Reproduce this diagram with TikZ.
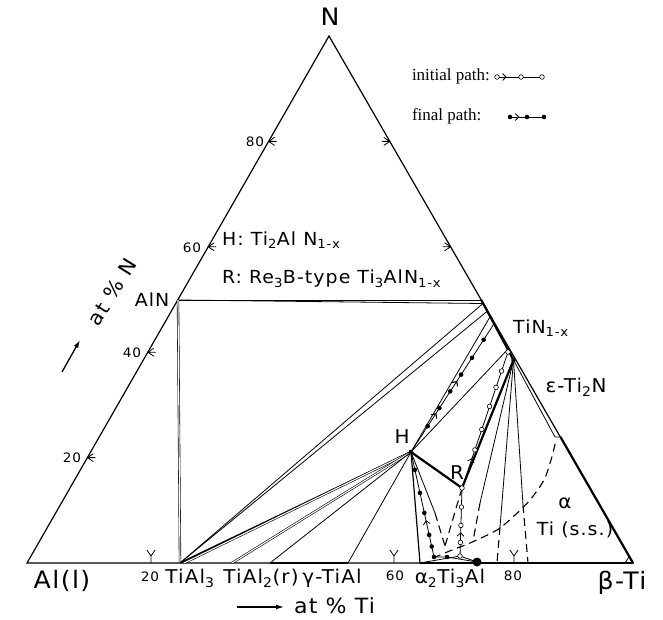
\documentclass[tikz,border=0pt]{standalone}
\usepackage{fontspec}
\newfontfamily\lab{DejaVu Sans}[LetterSpace=6,FakeStretch=1.05]
\newfontfamily\leg{Liberation Serif}
\usetikzlibrary{calc,arrows.meta,decorations.markings}
\begin{document}
\begin{tikzpicture}[x=1pt,y=-1pt,
  every node/.style={inner sep=0pt,outer sep=0pt},
  tl/.style={line width=0.8pt},
  ed/.style={line width=1.2pt},
  tk/.style={line width=2.2pt},
  dbl/.style={double, double distance=1.1pt, line width=0.6pt},
  dsh/.style={line width=1.1pt, dash pattern=on 8pt off 5pt},
  fdot/.style={circle, fill=black, minimum size=4.6pt},
  hdot/.style={circle, draw=black, fill=white, line width=0.6pt, minimum size=4.6pt},
  big/.style={font=\lab\fontsize{24}{24}\selectfont},
  mid/.style={font=\lab\fontsize{19}{19}\selectfont},
  lbl/.style={font=\lab\fontsize{18}{18}\selectfont},
  sml/.style={font=\lab\fontsize{13}{13}\selectfont},
  chev/.style={postaction={decorate},decoration={markings, mark=at position #1 with {\arrow{Straight Barb[length=3.5pt,width=7pt,line width=0.8pt]}}}},
]
\useasboundingbox (0,0) rectangle (663,620);
% corners and phase points
\coordinate (Al) at (27,563);
\coordinate (Ti) at (633,563);
\coordinate (N) at (329,36);
\coordinate (AlN) at (178,300);
\coordinate (T1) at (481.3,300);
\coordinate (T1b) at (483,303.5);
\coordinate (T2b) at (487.5,311);
\coordinate (T3) at (490.5,316);
\coordinate (Tp) at (494.5,323);
\coordinate (TH) at (509,348);
\coordinate (TLa) at (508,352);
\coordinate (TLb) at (513.5,360);
\coordinate (H) at (411,452);
\coordinate (R) at (462,488);
\coordinate (TiAl3) at (180,563);
\coordinate (TiAl3b) at (184,563);
\coordinate (TiAl2) at (232,563);
\coordinate (GL) at (270,563);
\coordinate (GR) at (348,563);
\coordinate (A2L) at (420,563);
\coordinate (EpsE) at (560.5,437);
\coordinate (EpsI) at (555,437);
\coordinate (F1) at (480,503);
\coordinate (V2) at (473,541);
\coordinate (F2) at (500,527);
\coordinate (F2e) at (497,563);
\coordinate (F3) at (523,505);
\coordinate (F3e) at (528,563);
\coordinate (G1) at (435,513);
\coordinate (V1) at (445,546);
\coordinate (B1) at (625,563);
\coordinate (B2) at (629.5,556);
\coordinate (P0) at (460,556);
\coordinate (Q1) at (447,557);
\coordinate (Q2) at (434,557);

% triangle
\draw[ed] (Al) -- (Ti) -- (N) -- cycle;
\draw[tk] (T1) -- (TLb);
\draw[tk] (EpsE) -- (Ti);
\draw[tk] (A2L) -- (Ti);
\draw[tk] (GL) -- (GR);

% tie lines
\draw[tl] (AlN) -- (T1);
\draw[tl] (AlN) -- (T1b);
\draw[dbl] (AlN) -- (TiAl3);
\draw[tl] (TiAl3) -- (T1b);
\draw[tl] (TiAl3) -- (T2b);
\draw[line width=1.6pt] (TiAl3) -- (H);
\draw[dbl] (TiAl3b) -- (H);
\draw[dbl] (TiAl2) -- (H);
\draw[tl] (GL) -- (H);
\draw[tl] (GR) -- (H);
\draw[ed] (H) -- (A2L);
\draw[tl] (H) -- (T3);
\draw[tl] (H) -- (TH);
\draw[tk] (H) -- (R);
\draw[tk] (R) -- (TLb);
\draw[tl] (H) -- (G1);
\draw[dsh] (G1) -- (V1);
\draw[dsh] (R) -- (V1);
\draw[tl] (TLb) -- (F1);
\draw[tl] (TLb) -- (F2);
\draw[tl] (TLb) -- (F3);
\draw[dsh] (F1) -- (V2);
\draw[dsh] (F2) -- (F2e);
\draw[dsh] (F3) -- (F3e);
\draw[tl] (TLb) -- (EpsI) -- (EpsE);
\draw[tl] (B1) -- (B2);
\draw[dsh] plot[smooth] coordinates {(433,558) (452,550) (470,543) (497,530) (515,515) (530,500) (544,480) (551,460) (556,440)};

% ticks
\foreach \x in {151,394,514} \draw[tl] (\x,563) -- (\x,556) (\x-4,550) -- (\x,556) -- (\x+4,550);
\foreach \p in {(87.4,457.6),(147.8,352.2),(208.2,246.8),(268.6,141.4)}
  \draw[tl] \p ++(6,-4) -- \p -- ++(6,4) \p -- ++(8,0);
\foreach \p in {(450.6,246.8),(389.8,141.4)}
  \draw[tl] \p ++(-6,-4) -- \p -- ++(-6,4) \p -- ++(-8,0);

% initial path (open circles)
\draw[tl] (A2L) -- (P0) -- (477,562);
\draw[tl, chev=0.35] (P0) -- (R);
\draw[tl, chev=0.22] (R) -- (TLa);
\foreach \f/\n in {0.2/a,0.45/b,0.72/c,1.0/d} \node[hdot] (iv\n) at ($(P0)!\f!(R)$) {};
\node[hdot] (iv0) at (P0) {};
\foreach \f/\n in {0.28/a,0.43/b,0.6/c,0.74/d,0.86/e,1.0/f} \node[hdot] (iu\n) at ($(R)!\f!(TLa)$) {};

% final path (filled dots)
\draw[tl] (477,562) -- (Q1) -- (Q2);
\draw[tl, chev=0.35] (Q2) -- (H);
\draw[tl, chev=0.55, chev=0.3] (H) -- (Tp);
\foreach \p/\n in {(Q1)/a,(Q2)/b} \node[fdot] (fb\n) at \p {};
\foreach \f/\n in {0.1/a,0.21/b,0.42/c,0.61/d,0.83/e} \node[fdot] (fv\n) at ($(Q2)!\f!(H)$) {};
\foreach \f/\n in {0.2/a,0.34/b,0.47/c,0.6/d,0.73/e,0.87/f} \node[fdot] (fu\n) at ($(H)!\f!(Tp)$) {};
\node[fdot] (fH) at (H) {};
\node[fdot] (fT) at (TLb) {};
\node[circle, fill=black, minimum size=9pt] (bd) at (477,562) {};

% legend
\node[font=\leg\fontsize{17}{17}\selectfont, anchor=west] (li) at (412,76) {initial path:};
\node[font=\leg\fontsize{17}{17}\selectfont, anchor=west] (lf) at (412,116) {final path:};
\coordinate (i1) at (497,77); \coordinate (i2) at (521,77); \coordinate (i3) at (542,77);
\draw[tl, chev=0.4] (i1) -- (i2);
\draw[tl] (i2) -- (i3);
\node[hdot] (ic1) at (i1) {}; \node[hdot] (ic2) at (i2) {}; \node[hdot] (ic3) at (i3) {};
\coordinate (f1) at (510,117); \coordinate (f2) at (527,117); \coordinate (f3) at (544,117);
\draw[tl, chev=0.55] (f1) -- (f2);
\draw[tl] (f2) -- (f3);
\node[fdot] (fc1) at (f1) {}; \node[fdot] (fc2) at (f2) {}; \node[fdot] (fc3) at (f3) {};

% labels
\node[big] (lN) at (330,17) {N};
\node[big] (lAl) at (62,581) {Al(l)};
\node[big] (lTi) at (622,583) {β-Ti};
\node[sml] (n20) at (72,458) {20};
\node[sml] (n40) at (132,353) {40};
\node[sml] (n60) at (192,248) {60};
\node[sml] (n80) at (255,142) {80};
\node[sml] (t20) at (150,577) {20};
\node[sml] (t60) at (395,576) {60};
\node[sml] (t80) at (513,576) {80};
\node[mid] (pTiAl3) at (190,578) {TiAl\textsubscript{3}};
\node[mid] (pTiAl2) at (261,578) {TiAl\textsubscript{2}(r)};
\node[mid] (pgam) at (332,578) {γ-TiAl};
\node[mid] (pa2) at (450,578) {α\textsubscript{2}Ti\textsubscript{3}Al};
\node[lbl] (pAlN) at (152,300) {AlN};
\node[lbl, anchor=west] (lH) at (222,240) {H: Ti\textsubscript{2}Al N\textsubscript{1-x}};
\node[lbl, anchor=west] (lR) at (222,279) {R: Re\textsubscript{3}B-type Ti\textsubscript{3}AlN\textsubscript{1-x}};
\node[lbl] (pTiN) at (541,328) {TiN\textsubscript{1-x}};
\node[mid] (peps) at (576,387) {ε-Ti\textsubscript{2}N};
\node[mid] (pHl) at (402,437) {H};
\node[mid] (pRl) at (457,473) {R};
\node[mid] (palpha) at (565,503) {α};
\node[lbl] (pTiss) at (575,530) {Ti (s.s.)};
\coordinate (aN1) at (62,372); \coordinate (aN2) at (80,340);
\draw[line width=1.3pt, -{Latex[length=8pt,width=5pt]}] (aN1) -- (aN2);
\node[font=\lab\fontsize{20}{20}\selectfont, rotate=58] (atN) at (112,292) {at \% N};
\coordinate (aT1) at (237,607); \coordinate (aT2) at (284,607);
\draw[line width=1.3pt, -{Latex[length=8pt,width=5pt]}] (aT1) -- (aT2);
\node[font=\lab\fontsize{21}{21}\selectfont, anchor=west] (atTi) at (294,606) {at \% Ti};
\end{tikzpicture}
\end{document}
